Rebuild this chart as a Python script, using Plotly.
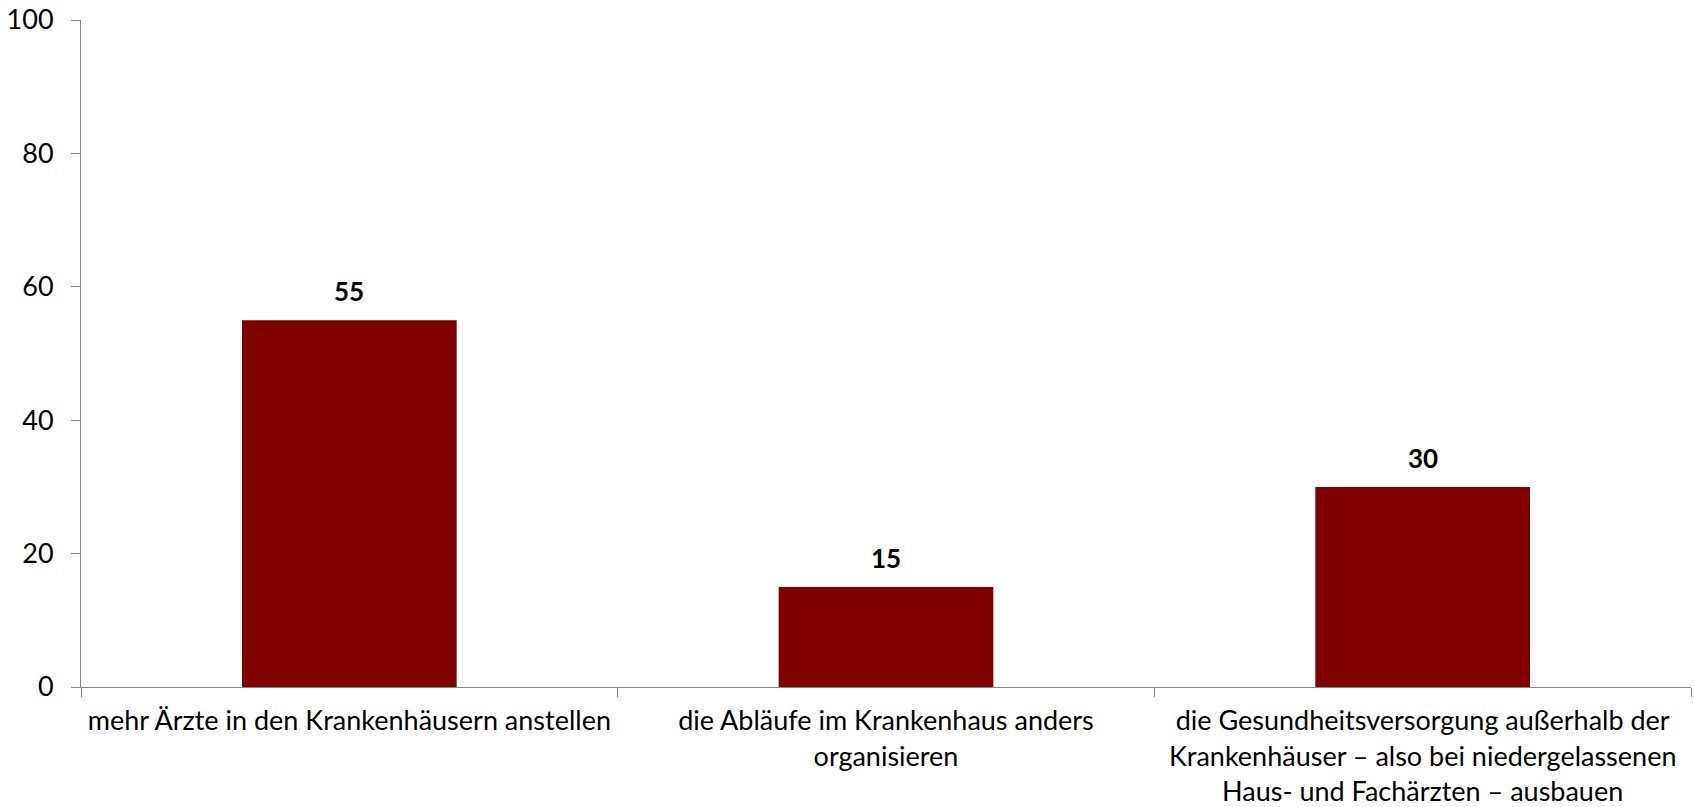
import plotly.graph_objects as go

categories = [
    "mehr Ärzte in den Krankenhäusern anstellen",
    "die Abläufe im Krankenhaus anders<br>organisieren",
    "die Gesundheitsversorgung außerhalb der<br>Krankenhäuser – also bei niedergelassenen<br>Haus- und Fachärzten – ausbauen",
]
values = [55, 15, 30]
y_ticks = [0, 20, 40, 60, 80, 100]

FONT = "Lato"
AXIS_COLOR = "#868686"

fig = go.Figure()
fig.add_trace(go.Bar(
    x=categories,
    y=values,
    width=0.4,
    marker=dict(color="#800000", line=dict(width=0)),
    hoverinfo="skip",
))

for c, v in zip(categories, values):
    fig.add_annotation(
        x=c, y=v, text=f"<b>{v}</b>", showarrow=False,
        yanchor="bottom", yshift=11,
        font=dict(family=FONT, size=26, color="#000000"),
    )

fig.update_layout(
    width=1694, height=807,
    margin=dict(l=81, r=3, t=20, b=120),
    paper_bgcolor="white", plot_bgcolor="white",
    showlegend=False,
    font=dict(family=FONT, size=27, color="#000000"),
    xaxis=dict(
        range=[-0.5, 2.5],
        automargin=False,
        showline=True, linecolor=AXIS_COLOR, linewidth=1,
        ticks="outside", tickson="boundaries", ticklen=9, tickcolor=AXIS_COLOR,
        showgrid=False, zeroline=False,
        tickfont=dict(family=FONT, size=27, color="#000000"),
        ticklabelstandoff=10,
        ticklabeloverflow="allow",
    ),
    yaxis=dict(
        range=[0, 100],
        automargin=False,
        tickvals=y_ticks,
        showline=True, linecolor=AXIS_COLOR, linewidth=1,
        ticks="outside", ticklen=9, tickcolor=AXIS_COLOR,
        showgrid=False, zeroline=False,
        tickfont=dict(family=FONT, size=27, color="#000000"),
        ticklabelstandoff=12,
        ticklabeloverflow="allow",
    ),
    bargap=0.6,
)

fig.write_html(
    "out.html",
    config={"displayModeBar": False},
    post_script="document.body.style.margin='0';document.body.style.overflow='hidden';",
)
